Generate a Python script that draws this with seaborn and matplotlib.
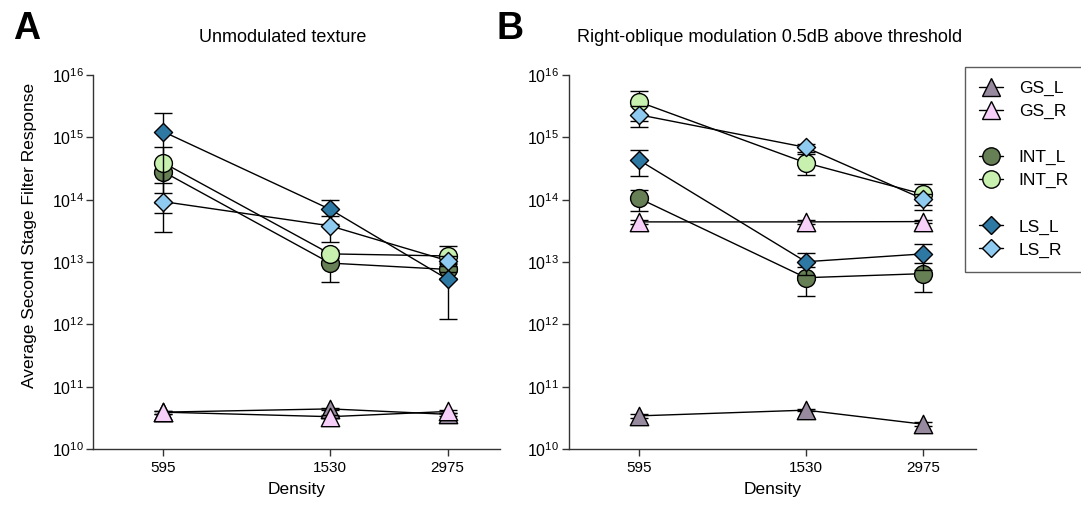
import numpy as np
import pandas as pd
import matplotlib
matplotlib.use("Agg")
import matplotlib.pyplot as plt
from matplotlib.lines import Line2D
from matplotlib.ticker import NullLocator, FixedLocator
import seaborn as sns

# ---------------- data ----------------
density = [595, 1530, 2975]
density_labels = ["595", "1530", "2975"]
series_names = ["GS_L", "GS_R", "INT_L", "INT_R", "LS_L", "LS_R"]
y_ticks = [1e10, 1e11, 1e12, 1e13, 1e14, 1e15, 1e16]

# Panel A: Unmodulated texture (means and SEMs)
A_GS_L = [3.9e10, 4.4e10, 3.6e10]
A_GS_L_sem = [0.2e10, 0.2e10, 0.2e10]
A_GS_R = [3.9e10, 3.3e10, 4.0e10]
A_GS_R_sem = [0.2e10, 0.2e10, 0.2e10]
A_INT_L = [2.8e14, 9.6e12, 7.6e12]
A_INT_L_sem = [0.94e14, 4.8e12, 2.0e12]
A_INT_R = [3.9e14, 1.35e13, 1.25e13]
A_INT_R_sem = [3.0e14, 2.0e12, 5.5e12]
A_LS_L = [1.23e15, 7.0e13, 5.3e12]
A_LS_L_sem = [1.2e15, 2.9e13, 4.1e12]
A_LS_R = [9.3e13, 3.8e13, 1.05e13]
A_LS_R_sem = [3.3e13, 1.7e13, 2.0e12]

# Panel B: Right-oblique modulation 0.5dB above threshold
B_GS_L = [3.4e10, 4.2e10, 2.5e10]
B_GS_L_sem = [0.2e10, 0.2e10, 0.2e10]
B_GS_R = [4.4e13, 4.4e13, 4.45e13]
B_GS_R_sem = [0.3e13, 0.3e13, 0.3e13]
B_INT_L = [1.05e14, 5.6e12, 6.5e12]
B_INT_L_sem = [4.0e13, 2.75e12, 3.2e12]
B_INT_R = [3.7e15, 3.9e14, 1.22e14]
B_INT_R_sem = [1.9e15, 1.45e14, 5.4e13]
B_LS_L = [4.3e14, 1.01e13, 1.35e13]
B_LS_L_sem = [1.9e14, 0.4e13, 0.6e13]
B_LS_R = [2.3e15, 6.9e14, 1.02e14]
B_LS_R_sem = [0.85e15, 1.0e14, 2.1e13]

panel_A = {"GS_L": (A_GS_L, A_GS_L_sem), "GS_R": (A_GS_R, A_GS_R_sem),
           "INT_L": (A_INT_L, A_INT_L_sem), "INT_R": (A_INT_R, A_INT_R_sem),
           "LS_L": (A_LS_L, A_LS_L_sem), "LS_R": (A_LS_R, A_LS_R_sem)}
panel_B = {"GS_L": (B_GS_L, B_GS_L_sem), "GS_R": (B_GS_R, B_GS_R_sem),
           "INT_L": (B_INT_L, B_INT_L_sem), "INT_R": (B_INT_R, B_INT_R_sem),
           "LS_L": (B_LS_L, B_LS_L_sem), "LS_R": (B_LS_R, B_LS_R_sem)}

def to_df(panel):
    rows = []
    for name in series_names:
        m, s = panel[name]
        for d, mv, sv in zip(density, m, s):
            rows.append({"series": name, "density": d, "mean": mv, "sem": sv})
    return pd.DataFrame(rows)

dfA = to_df(panel_A)
dfB = to_df(panel_B)

# ---------------- style ----------------
colors = {"GS_L": "#978A9F", "GS_R": "#F6D0F8", "INT_L": "#677F55",
          "INT_R": "#C8F0AE", "LS_L": "#2E78A4", "LS_R": "#8FCBF0"}
markers = {"GS_L": "^", "GS_R": "^", "INT_L": "o", "INT_R": "o", "LS_L": "D", "LS_R": "D"}
msizes = {"^": 175, "o": 165, "D": 85}

sns.set_style("ticks")
plt.rcParams["font.family"] = ["Liberation Sans", "DejaVu Sans"]
plt.rcParams["mathtext.fontset"] = "custom"
plt.rcParams["mathtext.rm"] = "Liberation Sans"
plt.rcParams["mathtext.it"] = "Liberation Sans:italic"
plt.rcParams["mathtext.bf"] = "Liberation Sans:bold"
for key in ["text.color", "axes.labelcolor", "xtick.color", "ytick.color"]:
    plt.rcParams[key] = "black"

W, H = 1081, 507
fig = plt.figure(figsize=(W / 100, H / 100), dpi=100)
axA = fig.add_axes([93.3 / W, 1 - 449 / H, 406.5 / W, 374 / H])
axB = fig.add_axes([569 / W, 1 - 449 / H, 406.5 / W, 374 / H])

axis_col = "#333333"

def draw(ax, df):
    sns.lineplot(data=df, x="density", y="mean", units="series", estimator=None,
                 color="black", lw=1.0, zorder=2, ax=ax, legend=False)
    for i, name in enumerate(series_names):
        sub = df[df["series"] == name]
        ax.errorbar(sub["density"], sub["mean"], yerr=sub["sem"], fmt="none",
                    ecolor="black", elinewidth=1.0, capsize=6.5, capthick=1.0,
                    zorder=3 + 2 * i)
        sns.scatterplot(data=sub, x="density", y="mean", marker=markers[name],
                        s=msizes[markers[name]], color=colors[name],
                        edgecolor="black", linewidth=1.0, zorder=4 + 2 * i,
                        ax=ax, legend=False)
    ax.set_xscale("log")
    ax.set_yscale("log")
    ax.set_xlim(400, 4000)
    ax.set_ylim(1e10, 1e16)
    ax.xaxis.set_major_locator(FixedLocator(density))
    ax.set_xticklabels(density_labels)
    ax.xaxis.set_minor_locator(NullLocator())
    ax.yaxis.set_major_locator(FixedLocator(y_ticks))
    ax.yaxis.set_minor_locator(NullLocator())
    ax.set_xlabel("Density", fontsize=12.5, labelpad=5)
    ax.set_ylabel("")
    for sp in ["top", "right"]:
        ax.spines[sp].set_visible(False)
    for sp in ["left", "bottom"]:
        ax.spines[sp].set_color(axis_col)
        ax.spines[sp].set_linewidth(1.0)
    ax.tick_params(axis="x", direction="out", length=5, width=1, color=axis_col,
                   labelsize=11, pad=4)
    ax.tick_params(axis="y", direction="out", length=5, width=1, color=axis_col,
                   labelsize=11.5, pad=2)

draw(axA, dfA)
draw(axB, dfB)

fig.text(30 / W, 1 - 235 / H, "Average Second Stage Filter Response", rotation=90,
         ha="center", va="center", fontsize=12.5)
fig.text(283 / W, 1 - 37 / H, "Unmodulated texture", ha="center", va="center", fontsize=13)
fig.text(770 / W, 1 - 37 / H, "Right-oblique modulation 0.5dB above threshold",
         ha="center", va="center", fontsize=13)
fig.text(27 / W, 1 - 29 / H, "A", ha="center", va="center", fontsize=27, fontweight="bold")
fig.text(510 / W, 1 - 29 / H, "B", ha="center", va="center", fontsize=27, fontweight="bold")

# legend with gaps between groups
handles, labels = [], []
for k, name in enumerate(series_names):
    if k in (2, 4):
        handles.append(Line2D([], [], linestyle="none", marker=None))
        labels.append("")
    ms = 12.5 if markers[name] != "D" else 9
    handles.append(Line2D([0], [0], color="black", lw=1.0, marker=markers[name], ms=ms,
                          markerfacecolor=colors[name], markeredgecolor="black",
                          markeredgewidth=1.0))
    labels.append(name)
leg = fig.legend(handles, labels, loc="upper left", bbox_to_anchor=(965 / W, 1 - 67 / H),
                 frameon=True, fancybox=False, fontsize=12.5, handlelength=1.4,
                 labelspacing=0.45, borderpad=0.8, handletextpad=0.9, borderaxespad=0)
leg.get_frame().set_edgecolor(axis_col)
leg.get_frame().set_linewidth(1.0)

fig.savefig("out.png", dpi=100)
